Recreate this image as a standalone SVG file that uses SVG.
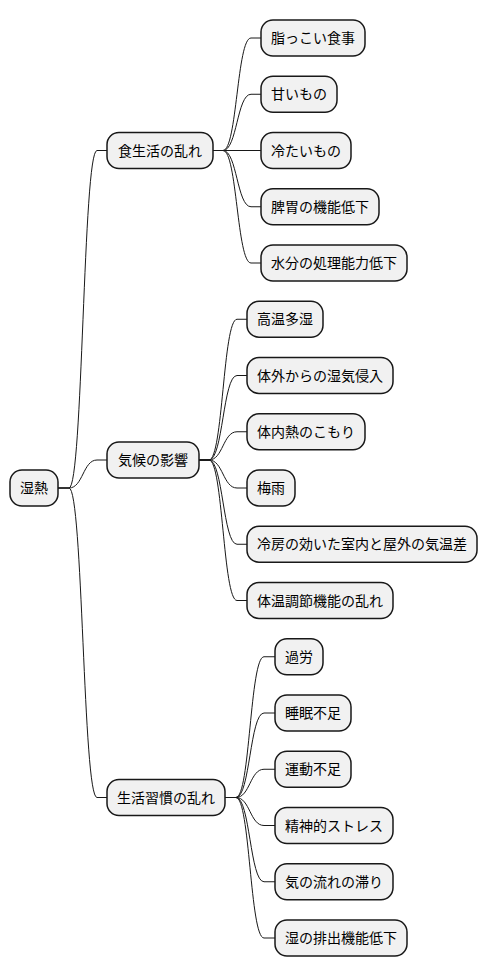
<svg xmlns="http://www.w3.org/2000/svg" width="488" height="978" viewBox="0 0 488 978">
<style>
.n rect{fill:#F1F1F1;stroke:#181818;stroke-width:1.5}
.n text{font-family:"Noto Sans CJK JP","Noto Sans",sans-serif;font-size:14px;fill:#000;text-anchor:middle}
#edges path{fill:none;stroke:#181818;stroke-width:1}
</style>
<rect width="488" height="978" fill="#FFFFFF"/>
<g id="edges">
<path d="M58 488 H69 C83 488 83 150.5 97 150.5 H107"/>
<path d="M58 488 H69 C83 488 83 460 97 460 H107"/>
<path d="M58 488 H69 C83 488 83 797.5 97 797.5 H107"/>
<path d="M213 150.5 H223 C237 150.5 237 38 251 38 H261"/>
<path d="M213 150.5 H223 C237 150.5 237 94.25 251 94.25 H261"/>
<path d="M213 150.5 H261"/>
<path d="M213 150.5 H223 C237 150.5 237 206.75 251 206.75 H261"/>
<path d="M213 150.5 H223 C237 150.5 237 263 251 263 H261"/>
<path d="M199 460 H209 C223 460 223 319.25 237 319.25 H247"/>
<path d="M199 460 H209 C223 460 223 375.5 237 375.5 H247"/>
<path d="M199 460 H209 C223 460 223 431.75 237 431.75 H247"/>
<path d="M199 460 H209 C223 460 223 488 237 488 H247"/>
<path d="M199 460 H209 C223 460 223 544.25 237 544.25 H247"/>
<path d="M199 460 H209 C223 460 223 600.5 237 600.5 H247"/>
<path d="M225 797.5 H236 C250 797.5 250 656.75 264 656.75 H275"/>
<path d="M225 797.5 H236 C250 797.5 250 713 264 713 H275"/>
<path d="M225 797.5 H236 C250 797.5 250 769.25 264 769.25 H275"/>
<path d="M225 797.5 H236 C250 797.5 250 825.5 264 825.5 H275"/>
<path d="M225 797.5 H236 C250 797.5 250 881.75 264 881.75 H275"/>
<path d="M225 797.5 H236 C250 797.5 250 938 264 938 H275"/>
</g>
<g id="root" class="n"><rect x="10" y="470" width="48" height="36" rx="12"/><text x="34" y="493">湿熱</text></g>
<g id="diet" class="n"><rect x="107" y="132.5" width="106" height="36" rx="12"/><text x="160" y="155.5">食生活の乱れ</text></g>
<g id="climate" class="n"><rect x="107" y="442" width="92" height="36" rx="12"/><text x="153" y="465">気候の影響</text></g>
<g id="life" class="n"><rect x="107" y="779.5" width="118" height="36" rx="12"/><text x="166" y="802.5">生活習慣の乱れ</text></g>
<g id="d1" class="n"><rect x="261" y="20" width="104" height="36" rx="12"/><text x="313" y="43">脂っこい食事</text></g>
<g id="d2" class="n"><rect x="261" y="76.25" width="76" height="36" rx="12"/><text x="299" y="99.25">甘いもの</text></g>
<g id="d3" class="n"><rect x="261" y="132.5" width="90" height="36" rx="12"/><text x="306" y="155.5">冷たいもの</text></g>
<g id="d4" class="n"><rect x="261" y="188.75" width="118" height="36" rx="12"/><text x="320" y="211.75">脾胃の機能低下</text></g>
<g id="d5" class="n"><rect x="261" y="245" width="146" height="36" rx="12"/><text x="334" y="268">水分の処理能力低下</text></g>
<g id="c1" class="n"><rect x="247" y="301.25" width="76" height="36" rx="12"/><text x="285" y="324.25">高温多湿</text></g>
<g id="c2" class="n"><rect x="247" y="357.5" width="146" height="36" rx="12"/><text x="320" y="380.5">体外からの湿気侵入</text></g>
<g id="c3" class="n"><rect x="247" y="413.75" width="118" height="36" rx="12"/><text x="306" y="436.75">体内熱のこもり</text></g>
<g id="c4" class="n"><rect x="247" y="470" width="48" height="36" rx="12"/><text x="271" y="493">梅雨</text></g>
<g id="c5" class="n"><rect x="247" y="526.25" width="230" height="36" rx="12"/><text x="362" y="549.25">冷房の効いた室内と屋外の気温差</text></g>
<g id="c6" class="n"><rect x="247" y="582.5" width="146" height="36" rx="12"/><text x="320" y="605.5">体温調節機能の乱れ</text></g>
<g id="l1" class="n"><rect x="275" y="638.75" width="48" height="36" rx="12"/><text x="299" y="661.75">過労</text></g>
<g id="l2" class="n"><rect x="275" y="695" width="76" height="36" rx="12"/><text x="313" y="718">睡眠不足</text></g>
<g id="l3" class="n"><rect x="275" y="751.25" width="76" height="36" rx="12"/><text x="313" y="774.25">運動不足</text></g>
<g id="l4" class="n"><rect x="275" y="807.5" width="118" height="36" rx="12"/><text x="334" y="830.5">精神的ストレス</text></g>
<g id="l5" class="n"><rect x="275" y="863.75" width="118" height="36" rx="12"/><text x="334" y="886.75">気の流れの滞り</text></g>
<g id="l6" class="n"><rect x="275" y="920" width="132" height="36" rx="12"/><text x="341" y="943">湿の排出機能低下</text></g>
</svg>
